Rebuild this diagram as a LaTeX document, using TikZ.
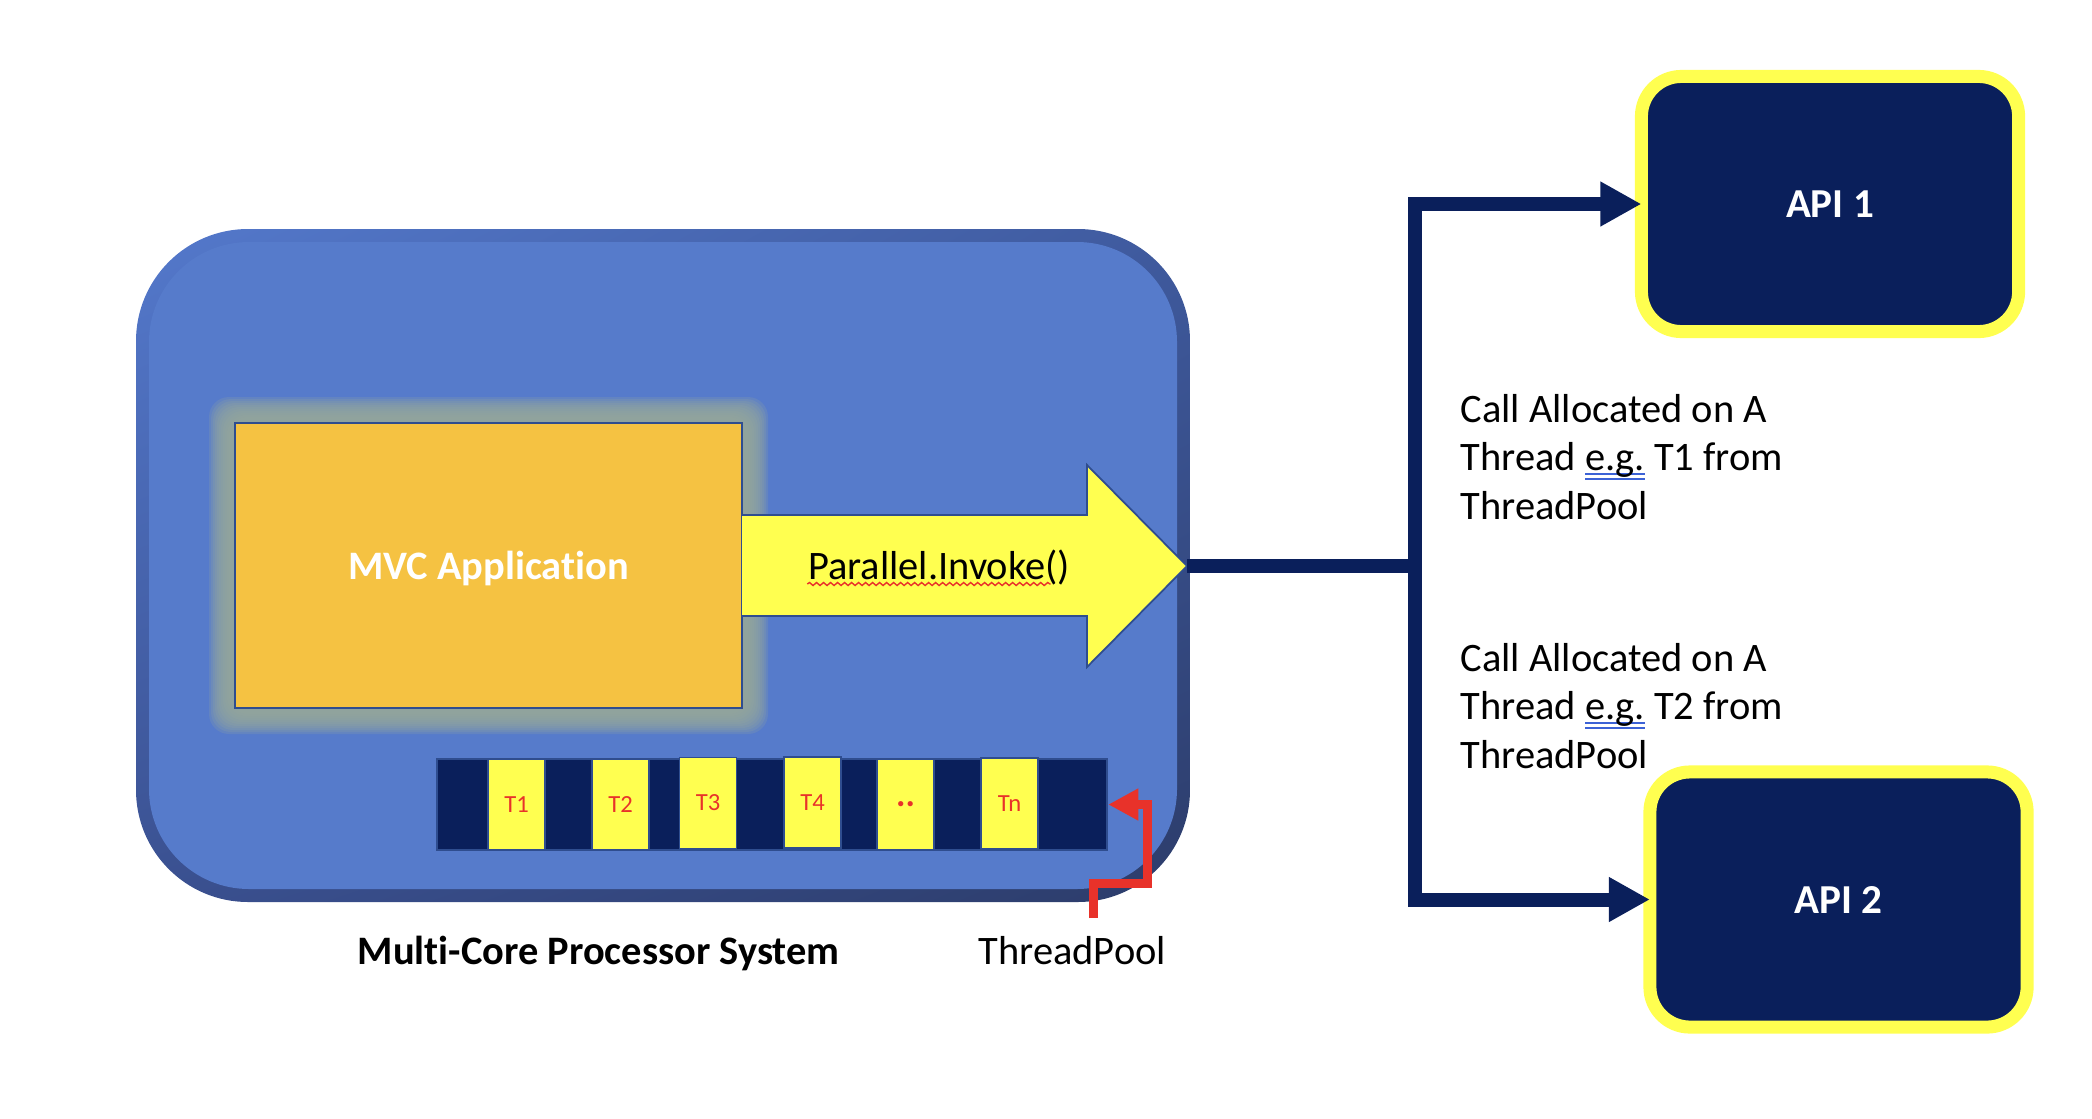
\documentclass[tikz,border=0pt]{standalone}
\usepackage{fontspec}
\setmainfont{Carlito}[Ligatures=NoCommon]
\usetikzlibrary{positioning,arrows.meta,decorations.pathmorphing,shadings}

\definecolor{sysfill}{HTML}{567BCB}
\definecolor{sysul}{HTML}{5479CC}
\definecolor{sysur}{HTML}{3F5A9E}
\definecolor{sysll}{HTML}{3A5090}
\definecolor{syslr}{HTML}{2C3C6A}
\definecolor{navy}{HTML}{0A1F5B}
\definecolor{apiyellow}{HTML}{FFFF50}
\definecolor{mvcorange}{HTML}{F5C242}
\definecolor{glowgrey}{HTML}{98A99A}
\definecolor{threadred}{HTML}{E8322A}
\definecolor{edgeblue}{HTML}{2F4D8F}
\definecolor{spellblue}{HTML}{3C62D6}

\newcommand\egmark{\setbox0\hbox{e.g.}%
  \rlap{\textcolor{spellblue}{\rule[-1.1pt]{\wd0}{0.5pt}}}%
  \rlap{\textcolor{spellblue}{\rule[-2.6pt]{\wd0}{0.5pt}}}\box0}

\tikzset{
  api/.style={draw=apiyellow, line width=3.7pt, fill=navy, rounded corners=0.4cm,
    minimum width=3.77cm, minimum height=2.55cm, outer sep=0pt,
    text=white, font=\bfseries\fontsize{11.7}{14}\selectfont},
  link/.style={draw=navy, line width=0.14cm, -{Triangle[length=0.41cm,width=0.42cm]}},
  cell/.style={fill=apiyellow, draw=edgeblue, line width=0.4pt, minimum width=0.57cm,
    minimum height=0.91cm, inner sep=0pt, text=threadred, font=\fontsize{7}{8}\selectfont},
  note/.style={anchor=base west, inner sep=0pt, align=left, font=\fontsize{11.5}{13.66}\selectfont},
}

\begin{document}
\begin{tikzpicture}[x=0.01cm, y=-0.01cm]
  \useasboundingbox (0,0) rectangle (2092,1118);
  \fill[white] (0,0) rectangle (2092,1118);

  % the multi-core system
  \shade[rounded corners=1.12cm, upper left=sysul, upper right=sysur, lower left=sysll, lower right=syslr]
    (136,229) rectangle (1190,902);
  \fill[sysfill, rounded corners=1cm] (149,242) rectangle (1177,889);

  % glow round the application
  \foreach \g in {6,8,...,26}
    \fill[glowgrey, opacity=0.2, rounded corners=0.2cm] ({235-\g},{423-\g}) rectangle ({742+\g},{708+\g});
  \node[fill=mvcorange, draw=edgeblue, line width=0.5pt, minimum width=5.07cm, minimum height=2.85cm,
    text=white, text depth=0pt, font=\bfseries\fontsize{11.5}{14}\selectfont] (mvc) at (488.5,565.5) {MVC Application};

  % Parallel.Invoke arrow
  \draw[fill=apiyellow, draw=edgeblue, line width=0.5pt] (742,515) -- (1087,515) -- (1087,465)
    -- (1187,566) coordinate (tip) -- (1087,667) -- (1087,616) -- (742,616);
  \node[anchor=base, inner sep=0pt, font=\fontsize{11.5}{13}\selectfont] (invoke) at (939,579) {Parallel.Invoke()};
  \draw[threadred, line width=0.4pt, decorate, decoration={snake, amplitude=0.015cm, segment length=0.07cm}]
    ([yshift=-0.05cm]invoke.base west) -- ([xshift=-0.2cm,yshift=-0.05cm]invoke.base east);

  % thread pool
  \node[fill=navy, draw=edgeblue, line width=0.6pt, minimum width=6.7cm, minimum height=0.91cm, inner sep=0pt] (threads) at (772,804.5) {};
  \foreach \x/\y/\t [count=\i] in {516.5/804.5/T1, 620.5/804.5/T2, 708/803/T3, 812.5/802.5/T4,
      905.5/804.5/{\textbf{\fontsize{10}{10}\selectfont..}}, 1009.5/803.5/Tn}
    \node[cell] (cell\i) at (\x,\y) {\t};

  \node[note, font=\bfseries\fontsize{11.5}{14}\selectfont] (system) at (357,964) {Multi-Core Processor System};
  \node[note] (pool) at (978,964) {ThreadPool};
  \coordinate (poolfoot) at (1093,918);
  \draw[draw=threadred, line width=0.09cm, -{Triangle[length=0.3cm,width=0.3cm]}] (poolfoot) |- (1147,883) |- (threads.east);

  % the two APIs
  \node[api] (api1) at (1830,204) {API 1};
  \node[api] (api2) at (1838.5,899.5) {API 2};

  \coordinate (split) at (1415,566);
  \draw[draw=navy, line width=0.14cm] (tip) -- (split);
  \draw[link] (split) |- (api1.west);
  \draw[link] (split) |- (api2.west);

  \node[note] (call1) at (1460,519) {Call Allocated on A\\Thread \egmark{} T1 from\\ThreadPool};
  \node[note] (call2) at (1460,768) {Call Allocated on A\\Thread \egmark{} T2 from\\ThreadPool};
\end{tikzpicture}
\end{document}
